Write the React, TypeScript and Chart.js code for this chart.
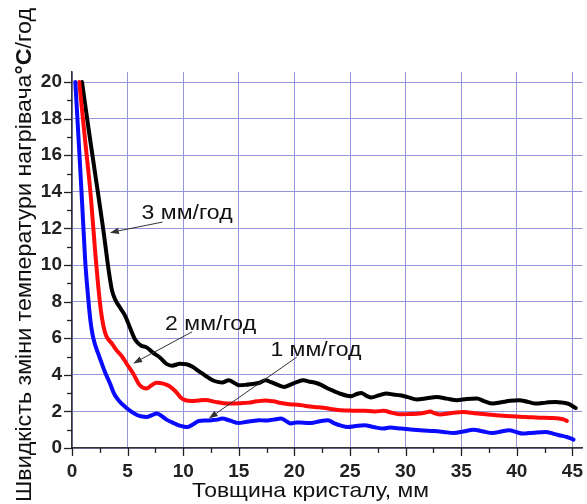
import React, { useEffect, useRef } from "react";
import { Chart, registerables } from "chart.js";

Chart.register(...registerables);

// ---- data ----
const thickness3 = [0.9, 1.5, 2.2, 2.8, 3.3, 3.6, 3.9, 4.4, 4.8, 5.2, 5.7, 6.2, 6.7, 7.3, 7.9, 8.5, 9.0, 9.7, 10.3, 10.8, 11.4, 12.0, 12.6, 13.2, 13.5, 14.1, 14.6, 15.0, 15.6, 16.2, 16.8, 17.4, 17.9, 18.5, 19.1, 19.6, 20.2, 20.8, 21.4, 21.8, 22.4, 23.0, 23.6, 24.2, 25.1, 25.6, 26.0, 26.5, 26.9, 27.6, 28.3, 28.9, 29.5, 30.2, 31.0, 31.9, 32.8, 33.7, 34.6, 35.5, 36.4, 37.1, 37.8, 38.6, 39.4, 40.2, 41.0, 41.7, 42.6, 43.5, 44.1, 44.6, 45.3];
const rate3 = [20, 17.4, 14.5, 12.0, 9.7, 8.6, 8.1, 7.6, 7.2, 6.6, 5.9, 5.6, 5.5, 5.2, 4.95, 4.6, 4.5, 4.6, 4.58, 4.45, 4.2, 3.95, 3.72, 3.6, 3.58, 3.7, 3.55, 3.43, 3.45, 3.5, 3.55, 3.7, 3.6, 3.45, 3.34, 3.45, 3.6, 3.7, 3.62, 3.58, 3.45, 3.25, 3.1, 2.95, 2.83, 2.95, 3.01, 2.85, 2.76, 2.88, 2.98, 2.92, 2.88, 2.78, 2.65, 2.72, 2.79, 2.7, 2.61, 2.68, 2.7, 2.55, 2.43, 2.5, 2.58, 2.61, 2.52, 2.43, 2.48, 2.52, 2.48, 2.42, 2.18];

const thickness2 = [0.65, 1.2, 1.7, 2.1, 2.35, 2.6, 2.85, 3.1, 3.6, 4.0, 4.5, 4.9, 5.5, 6.1, 6.7, 7.1, 7.6, 8.2, 8.7, 9.3, 9.8, 10.2, 10.8, 11.4, 12.0, 12.9, 13.6, 14.4, 15.2, 15.9, 16.6, 17.4, 18.1, 18.8, 19.7, 20.3, 21.0, 21.8, 22.6, 23.4, 24.2, 25.2, 26.3, 27.2, 28.0, 28.8, 29.5, 30.4, 31.3, 31.8, 32.2, 32.6, 33.1, 34.0, 35.2, 36.2, 37.2, 38.4, 39.6, 40.8, 42.0, 43.0, 43.8, 44.2, 44.5];
const rate2 = [20, 16.7, 13.7, 10.6, 8.9, 7.5, 6.6, 6.1, 5.7, 5.35, 5.0, 4.62, 4.07, 3.43, 3.25, 3.4, 3.56, 3.52, 3.4, 3.1, 2.75, 2.61, 2.57, 2.6, 2.62, 2.52, 2.45, 2.43, 2.45, 2.48, 2.55, 2.6, 2.55, 2.46, 2.38, 2.37, 2.3, 2.24, 2.2, 2.12, 2.06, 2.04, 2.03, 2.0, 2.03, 1.92, 1.84, 1.86, 1.88, 1.94, 2.0, 1.9, 1.83, 1.9, 1.97, 1.9, 1.84, 1.78, 1.73, 1.7, 1.66, 1.64, 1.61, 1.56, 1.48];

const thickness1 = [0.3, 0.6, 0.9, 1.18, 1.34, 1.5, 1.65, 1.85, 2.05, 2.3, 2.6, 3.0, 3.4, 3.8, 4.2, 4.8, 5.3, 5.8, 6.3, 6.7, 7.2, 7.6, 8.0, 8.5, 9.0, 9.6, 10.0, 10.4, 10.9, 11.4, 12.0, 12.6, 13.1, 13.5, 14.2, 15.0, 15.6, 16.2, 16.8, 17.4, 18.1, 18.8, 19.3, 19.7, 20.2, 20.8, 21.5, 22.2, 23.0, 23.6, 24.2, 24.8, 25.5, 26.3, 27.1, 28.0, 28.6, 29.6, 30.7, 31.6, 32.5, 33.4, 34.3, 35.2, 36.1, 37.0, 37.8, 38.6, 39.3, 40.0, 40.5, 41.5, 42.6, 43.2, 43.8, 44.5, 45.1];
const rate1 = [20, 16.8, 13.5, 10.3, 9.0, 7.9, 7.0, 6.2, 5.7, 5.25, 4.75, 4.1, 3.55, 2.95, 2.6, 2.24, 2.0, 1.82, 1.72, 1.7, 1.8, 1.88, 1.78, 1.55, 1.4, 1.24, 1.18, 1.15, 1.3, 1.48, 1.5, 1.52, 1.55, 1.61, 1.5, 1.37, 1.42, 1.47, 1.52, 1.5, 1.55, 1.61, 1.45, 1.34, 1.4, 1.38, 1.37, 1.45, 1.52, 1.35, 1.22, 1.15, 1.2, 1.24, 1.15, 1.06, 1.12, 1.06, 1.0, 0.96, 0.93, 0.88, 0.82, 0.9, 1.0, 0.9, 0.82, 0.9, 0.97, 0.86, 0.79, 0.84, 0.88, 0.8, 0.7, 0.6, 0.46];

const seriesLabels = ["3 мм/год", "2 мм/год", "1 мм/год"];
const xTitle = "Товщина кристалу, мм";
const yTitleParts = ["Швидкість зміни температури нагрівача", "°С", "/год"];

const FONT = "'Liberation Sans', Arial, 'DejaVu Sans', sans-serif";

function pts(xs: number[], ys: number[]) {
  return xs.map((x, i) => ({ x, y: ys[i] }));
}

function arrow(ctx: CanvasRenderingContext2D, x1: number, y1: number, x2: number, y2: number) {
  ctx.save();
  ctx.strokeStyle = "#333";
  ctx.fillStyle = "#333";
  ctx.lineWidth = 1;
  const ang = Math.atan2(y2 - y1, x2 - x1);
  const hl = 9, hw = 3.2;
  const bx = x2 - hl * Math.cos(ang), by = y2 - hl * Math.sin(ang);
  ctx.beginPath();
  ctx.moveTo(x1, y1);
  ctx.lineTo(bx, by);
  ctx.stroke();
  ctx.beginPath();
  ctx.moveTo(x2, y2);
  ctx.lineTo(bx + hw * Math.sin(ang), by - hw * Math.cos(ang));
  ctx.lineTo(bx - hw * Math.sin(ang), by + hw * Math.cos(ang));
  ctx.closePath();
  ctx.fill();
  ctx.restore();
}

function fitText(ctx: CanvasRenderingContext2D, text: string, x: number, y: number, size: number, width: number) {
  ctx.save();
  ctx.font = `${size}px ${FONT}`;
  const w = ctx.measureText(text).width;
  ctx.translate(x, y);
  ctx.scale(width / w, 1);
  ctx.textAlign = "left";
  ctx.textBaseline = "alphabetic";
  ctx.fillStyle = "#111";
  ctx.fillText(text, 0, 0);
  ctx.restore();
}

const overlay = {
  id: "overlay",
  afterDraw(chart: any) {
    const { ctx, chartArea } = chart;
    const xs = chart.scales.x, ys = chart.scales.y;
    ctx.save();
    // tick marks
    ctx.strokeStyle = "#222";
    ctx.lineWidth = 1.3;
    for (let v = 0; v <= 20; v += 1) {
      const py = Math.round(ys.getPixelForValue(v)) + 0.5;
      const len = v % 2 === 0 ? 8 : 5;
      ctx.beginPath();
      ctx.moveTo(chartArea.left - len, py);
      ctx.lineTo(chartArea.left, py);
      ctx.stroke();
    }
    for (let v = 0; v <= 45; v += 2.5) {
      const px = Math.round(xs.getPixelForValue(v)) + 0.5;
      const len = v % 5 === 0 ? 8 : 5;
      ctx.beginPath();
      ctx.moveTo(px, chartArea.bottom);
      ctx.lineTo(px, chartArea.bottom + len);
      ctx.stroke();
    }
    // annotations (positions in data coordinates)
    const ann = [
      { text: seriesLabels[0], tx: 6.26, ty: 12.52, ax1: 8.15, ay1: 12.35, ax2: 3.4, ay2: 11.77 },
      { text: seriesLabels[1], tx: 8.37, ty: 6.44, ax1: 10.8, ay1: 6.35, ax2: 5.5, ay2: 4.62 },
      { text: seriesLabels[2], tx: 17.84, ty: 5.02, ax1: 20.2, ay1: 4.96, ax2: 12.3, ay2: 1.61 },
    ];
    for (const a of ann) {
      fitText(ctx, a.text, xs.getPixelForValue(a.tx), ys.getPixelForValue(a.ty), 21, 91);
      arrow(ctx, xs.getPixelForValue(a.ax1), ys.getPixelForValue(a.ay1), xs.getPixelForValue(a.ax2), ys.getPixelForValue(a.ay2));
    }
    // x title
    fitText(ctx, xTitle, 192, 497, 21, 237);
    // y title with bold part
    ctx.save();
    const normal = `22px ${FONT}`, bold = `bold 22px ${FONT}`;
    ctx.font = normal;
    const w0 = ctx.measureText(yTitleParts[0]).width;
    const w2 = ctx.measureText(yTitleParts[2]).width;
    ctx.font = bold;
    const w1 = ctx.measureText(yTitleParts[1]).width;
    const total = w0 + w1 + w2;
    const target = 494;
    ctx.translate(31, 502);
    ctx.rotate(-Math.PI / 2);
    ctx.scale(target / total, 1);
    ctx.fillStyle = "#111";
    ctx.textBaseline = "alphabetic";
    ctx.textAlign = "left";
    ctx.font = normal;
    ctx.fillText(yTitleParts[0], 0, 0);
    ctx.font = bold;
    ctx.fillText(yTitleParts[1], w0, 0);
    ctx.font = normal;
    ctx.fillText(yTitleParts[2], w0 + w1, 0);
    ctx.restore();
    ctx.restore();
  },
};

export default function App() {
  const ref = useRef<HTMLCanvasElement | null>(null);
  useEffect(() => {
    if (!ref.current) return;
    const gridColor = "#9494da";
    const chart = new Chart(ref.current, {
      type: "line",
      data: {
        datasets: [
          { label: seriesLabels[2], data: pts(thickness1, rate1), borderColor: "#0a0aff" },
          { label: seriesLabels[1], data: pts(thickness2, rate2), borderColor: "#ff0a0a" },
          { label: seriesLabels[0], data: pts(thickness3, rate3), borderColor: "#000000" },
        ].map((d) => ({
          ...d,
          borderWidth: 4,
          pointRadius: 0,
          fill: false,
          cubicInterpolationMode: "monotone" as const,
          borderJoinStyle: "round" as const,
          borderCapStyle: "round" as const,
        })),
      },
      options: {
        animation: false,
        responsive: false,
        devicePixelRatio: 1,
        layout: { padding: { top: 72, left: 0, right: 0, bottom: 0 } },
        plugins: { legend: { display: false }, tooltip: { enabled: false } },
        scales: {
          x: {
            type: "linear",
            min: 0,
            max: 45.9,
            afterFit: (s: any) => { s.height = 56; },
            grid: { color: gridColor, lineWidth: 1, tickLength: 8, tickColor: "rgba(0,0,0,0)" },
            border: { color: "#333", width: 1.5 },
            ticks: {
              stepSize: 5,
              includeBounds: false,
              autoSkip: false,
              maxRotation: 0,
              padding: 4,
              color: "#222",
              font: { family: FONT, size: 19, weight: "bold" },
            },
          },
          y: {
            type: "linear",
            min: 0,
            max: 20.55,
            afterFit: (s: any) => { s.width = 72; },
            grid: { color: gridColor, lineWidth: 1, tickLength: 8, tickColor: "rgba(0,0,0,0)" },
            border: { color: "#333", width: 1.5 },
            ticks: {
              stepSize: 2,
              includeBounds: false,
              autoSkip: false,
              padding: 2,
              color: "#222",
              font: { family: FONT, size: 19, weight: "bold" },
            },
          },
        },
      },
      plugins: [overlay],
    });
    return () => chart.destroy();
  }, []);
  return (
    <div style={{ position: "fixed", left: 0, top: 0, width: 587, height: 504, background: "#fff" }}>
      <canvas ref={ref} width={587} height={504} />
    </div>
  );
}
